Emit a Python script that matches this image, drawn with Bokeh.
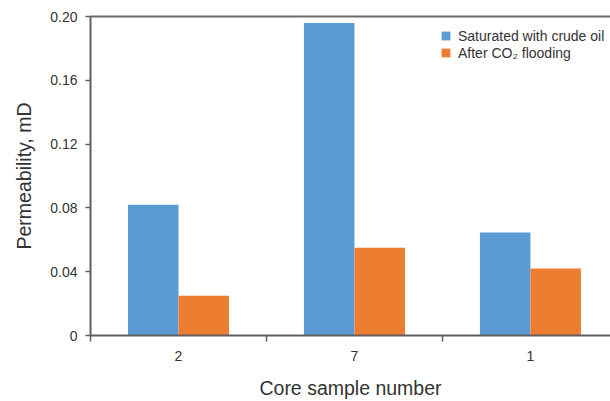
from bokeh.plotting import figure
from bokeh.models import ColumnDataSource, Range1d, FixedTicker, LinearAxis, Legend, LegendItem
from bokeh.transform import dodge
from bokeh.embed import file_html
from bokeh.resources import INLINE

categories = ["2", "7", "1"]
saturated = [0.082, 0.196, 0.0645]
after_co2 = [0.025, 0.055, 0.042]
series_names = ["Saturated with crude oil", "After CO\u2082 flooding"]
y_ticks = [0, 0.04, 0.08, 0.12, 0.16, 0.20]
y_tick_labels = ["0", "0.04", "0.08", "0.12", "0.16", "0.20"]

idx = list(range(1, len(categories) + 1))
src = ColumnDataSource(dict(idx=idx, sat=saturated, co2=after_co2))

FONT = "Liberation Sans"
AXIS_COLOR = "#5f5f5f"
TEXT_COLOR = "#333333"

p = figure(width=610, height=401, output_backend="svg", toolbar_location=None,
           x_range=Range1d(0.5, 3.455), y_range=Range1d(0, 0.2))
p.min_border_left = 90
p.min_border_top = 16
p.min_border_bottom = 65
p.min_border_right = 0
p.outline_line_color = None
p.grid.visible = False
p.background_fill_color = "white"
p.border_fill_color = "white"

bw = 0.287
r1 = p.vbar(x=dodge("idx", -bw / 2, range=p.x_range), top="sat", width=bw, bottom=0,
            source=src, fill_color="#5B9BD5", line_color=None)
r2 = p.vbar(x=dodge("idx", bw / 2, range=p.x_range), top="co2", width=bw, bottom=0,
            source=src, fill_color="#ED7D31", line_color=None)

xa = p.below[0]
ya = p.left[0]

# top frame line
top_axis = LinearAxis(ticker=FixedTicker(ticks=[], minor_ticks=[]))
top_axis.axis_line_color = "#6a6a6a"
top_axis.axis_line_width = 2
top_axis.major_tick_line_color = None
top_axis.minor_tick_line_color = None
top_axis.major_label_text_font_size = "0px"
top_axis.major_label_standoff = 0
p.add_layout(top_axis, "above")

# x axis
xa.ticker = FixedTicker(ticks=idx, minor_ticks=[0.5, 1.5, 2.5, 3.5])
xa.major_label_overrides = {i: c for i, c in zip(idx, categories)}
xa.major_tick_out = 0
xa.major_tick_in = 0
xa.minor_tick_out = 6
xa.minor_tick_in = 0
xa.minor_tick_line_color = AXIS_COLOR
xa.minor_tick_line_width = 1.5
xa.axis_line_color = AXIS_COLOR
xa.axis_line_width = 2
xa.major_label_text_font = FONT
xa.major_label_text_font_size = "14px"
xa.major_label_text_color = TEXT_COLOR
xa.major_label_standoff = 9
xa.axis_label = "Core sample number"
xa.axis_label_text_font = FONT
xa.axis_label_text_font_size = "19.5px"
xa.axis_label_text_font_style = "normal"
xa.axis_label_text_color = TEXT_COLOR
xa.axis_label_standoff = 13

# y axis
ya.ticker = FixedTicker(ticks=y_ticks, minor_ticks=[])
ya.major_label_overrides = {t: l for t, l in zip(y_ticks, y_tick_labels)}
ya.major_tick_out = 5
ya.major_tick_in = 0
ya.major_tick_line_color = AXIS_COLOR
ya.major_tick_line_width = 1.5
ya.axis_line_color = AXIS_COLOR
ya.axis_line_width = 2
ya.major_label_text_font = FONT
ya.major_label_text_font_size = "14px"
ya.major_label_text_color = TEXT_COLOR
ya.major_label_standoff = 8
ya.axis_label = "Permeability, mD"
ya.axis_label_text_font = FONT
ya.axis_label_text_font_size = "19.5px"
ya.axis_label_text_font_style = "normal"
ya.axis_label_text_color = TEXT_COLOR
ya.axis_label_standoff = 12

legend = Legend(items=[LegendItem(label=series_names[0], renderers=[r1]),
                       LegendItem(label=series_names[1], renderers=[r2])],
                location=(350, 274))
legend.border_line_color = None
legend.background_fill_alpha = 0
legend.label_text_font = FONT
legend.label_text_font_size = "14px"
legend.label_text_color = TEXT_COLOR
legend.glyph_width = 11
legend.glyph_height = 11
legend.label_standoff = 7
legend.spacing = 0
legend.padding = 3
legend.margin = 0
legend.label_height = 17
p.add_layout(legend)

open("out.html", "w").write(file_html(p, INLINE))
